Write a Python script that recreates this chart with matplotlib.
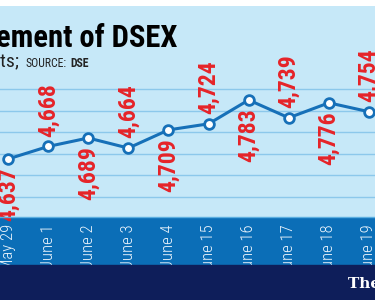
import numpy as np
import matplotlib
matplotlib.use('Agg')
import matplotlib.pyplot as plt
from matplotlib import font_manager as fm
from matplotlib.patches import Rectangle
from matplotlib.lines import Line2D

# Data
dates = ["May 29", "June 1", "June 2", "June 3", "June 4",
         "June 15", "June 16", "June 17", "June 18", "June 19"]
dsex = [4637, 4668, 4689, 4664, 4709, 4724, 4783, 4739, 4776, 4754]
grid_levels = [4544, 4597, 4650, 4704, 4757, 4810]

# Colours
bg_light = "#c6e8f8"
band_blue = "#0b6eb7"
navy = "#0e1e5a"
line_blue = "#1670b8"
grid_blue = "#8cc8eb"
label_red = "#e62328"


def pick(*names):
    # first installed family from the list, DejaVu Sans as last resort
    have = set(f.name for f in fm.fontManager.ttflist)
    for n in names:
        if n in have:
            return [n, "DejaVu Sans"]
    return ["DejaVu Sans"]


cond = pick("Roboto Condensed", "Oswald", "Archivo Narrow", "Liberation Sans Narrow")

W, H = 375, 300
fig = plt.figure(figsize=(W / 100, H / 100), dpi=100)
fig.patch.set_facecolor("white")

ax_bottom = 1 - 217 / H
ax_top = 1 - 6 / H
ax = fig.add_axes([0, ax_bottom, 1, ax_top - ax_bottom])
ax.set_facecolor(bg_light)

x = np.arange(len(dates))
ax.plot(x, dsex, color=line_blue, lw=2.2, marker="o", ms=7,
        mfc="white", mec=line_blue, mew=2, zorder=3, clip_on=False)

for level in grid_levels:
    ax.axhline(level, color=grid_blue, lw=1, zorder=1)

ax.set_xlim(-0.2, 9.15)
ax.set_ylim(4493.4, 5015.7)

for s in ax.spines.values():
    s.set_visible(False)
ax.set_yticks([])
ax.set_xticks(x)
ax.set_xticklabels(dates, rotation=90, color="#eef6fd", fontsize=12,
                   family=cond, fontweight="light")
ax.tick_params(axis="x", length=0, pad=5)

# Value labels, alternating below / above the points
for i, v in enumerate(dsex):
    above = i % 2 == 1
    ax.annotate("{:,}".format(v), (i, v),
                xytext=(0, 7 if above else -6), textcoords="offset points",
                rotation=90, ha="center", va="bottom" if above else "top",
                color=label_red, fontsize=17, fontweight="bold",
                family=cond, zorder=4, annotation_clip=False)

# Bottom bands
fig.add_artist(Rectangle((0, 1 - 265 / H), 1, (265 - 217) / H,
                         transform=fig.transFigure, color=band_blue, zorder=-1))
fig.add_artist(Line2D([0, 1], [ax_bottom, ax_bottom], transform=fig.transFigure,
                      color="#5aaee0", lw=1, zorder=2))
fig.add_artist(Rectangle((0, 0), 1, 1 - 265 / H,
                         transform=fig.transFigure, color=navy, zorder=5))

# Title and subtitle (cropped on the left like the original)
fig.text(177 / W, 1 - 47 / H, "Movement of DSEX", ha="right", va="baseline",
         fontsize=22, fontweight="black", family=cond, color="black", zorder=6)
fig.text(19 / W, 1 - 67 / H, "In points;", ha="right", va="baseline",
         fontsize=14, family=cond, color="#222222", zorder=6)
fig.text(67 / W, 1 - 67 / H, "SOURCE:", ha="right", va="baseline",
         fontsize=8.5, family=cond, color="#222222", zorder=6)
fig.text(89 / W, 1 - 67 / H, "DSE", ha="right", va="baseline",
         fontsize=8.5, fontweight="bold", family=cond, color="#222222", zorder=6)

# Logo
fig.text(348 / W, 1 - 288 / H, "The Daily Star", color="white", fontsize=11,
         fontweight="bold", family="DejaVu Serif", zorder=6)

fig.savefig("out.png", dpi=100)
plt.close(fig)
